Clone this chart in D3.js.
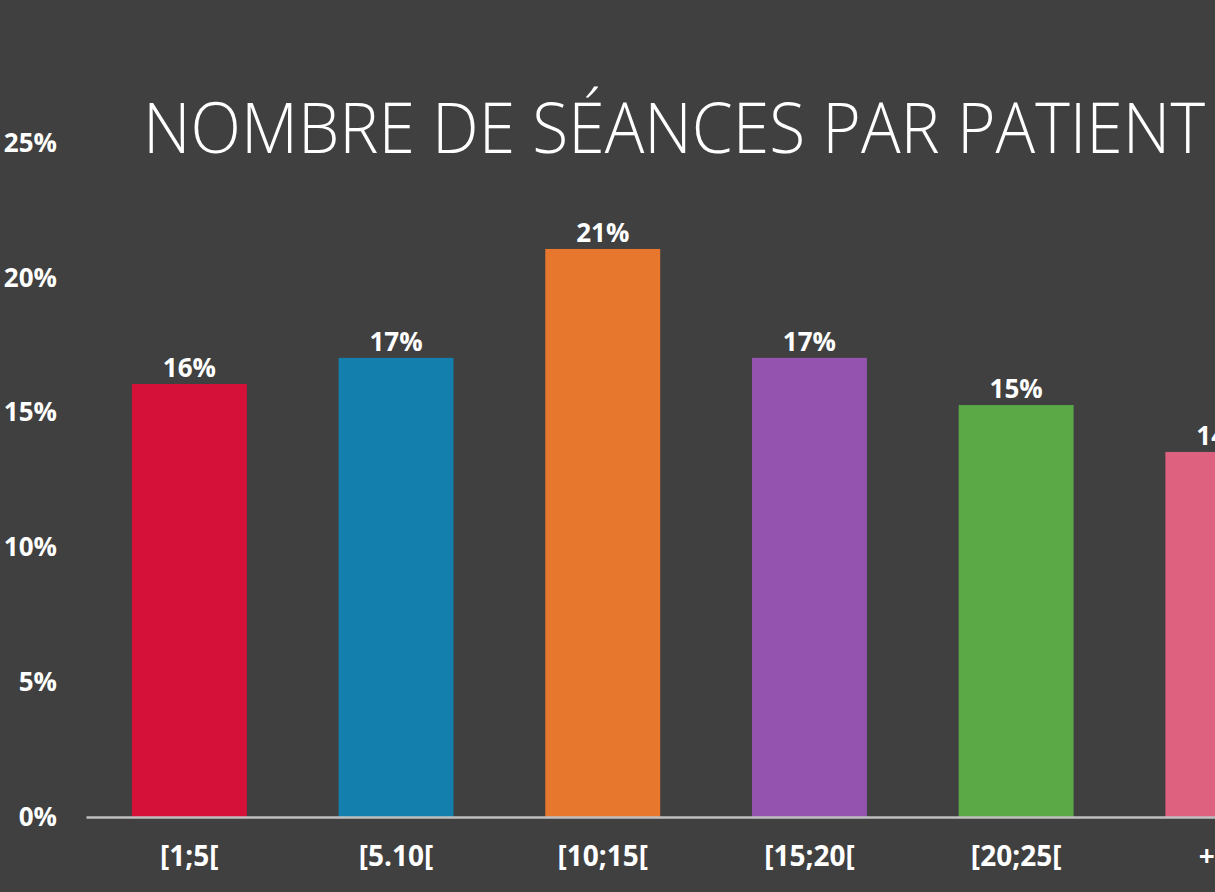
<!DOCTYPE html>
<html>
<head>
<meta charset="utf-8">
<script src="https://cdn.jsdelivr.net/npm/d3@7"></script>
<style>
  html, body { margin: 0; padding: 0; background: #404040; overflow: hidden; }
  svg { display: block; }
</style>
</head>
<body>
<div id="chart"></div>
<script>
// chart data
const categories = ["[1;5[", "[5.10[", "[10;15[", "[15;20[", "[20;25[", "+25"];
const values = [0.1606, 0.1703, 0.2107, 0.1703, 0.1528, 0.1354];
const barColors = ["#D51039", "#127FAD", "#E8772E", "#9553B0", "#5AA846", "#DE6180"];
const yTicks = [0, 0.05, 0.10, 0.15, 0.20, 0.25];
const titleText = "NOMBRE DE SÉANCES PAR PATIENT";

class BarChart {
    constructor(_config) {
        this.config = {
            parentElement: _config.parentElement,
            containerWidth: _config.containerWidth || 1215,
            containerHeight: _config.containerHeight || 892
        };
        this.initVis();
    }

    initVis() {
        const vis = this;
        vis.svg = d3.select(vis.config.parentElement)
            .append('svg')
            .attr('width', vis.config.containerWidth)
            .attr('height', vis.config.containerHeight);

        vis.svg.append('rect')
            .attr('width', vis.config.containerWidth)
            .attr('height', vis.config.containerHeight)
            .attr('fill', '#404040');

        // plot is wider than the picture, last bar gets cut at the right edge
        vis.x = d3.scaleBand()
            .domain(categories)
            .range([86, 86 + 206.7 * categories.length])
            .paddingInner(0.444)
            .paddingOuter(0.222);

        vis.y = d3.scaleLinear().domain([0, 0.25]).range([817, 143]);

        vis.renderVis();
    }

    renderVis() {
        const vis = this;
        const fmt = d3.format('.0%');
        const font = '"Open Sans", sans-serif';

        // title
        vis.svg.append('text')
            .attr('x', 143)
            .attr('y', 153)
            .attr('textLength', 1062)
            .attr('lengthAdjust', 'spacingAndGlyphs')
            .attr('fill', '#ffffff')
            .style('font-family', font)
            .style('font-weight', 300)
            .style('font-size', '70px')
            .text(titleText);

        // y axis labels
        const yAxis = d3.axisLeft(vis.y)
            .tickValues(yTicks)
            .tickFormat(fmt)
            .tickSize(0)
            .tickPadding(29);
        const yg = vis.svg.append('g')
            .attr('transform', 'translate(86,0)')
            .call(yAxis);
        yg.select('.domain').remove();
        yg.selectAll('text')
            .attr('fill', '#ffffff')
            .style('font-family', font)
            .style('font-weight', 700)
            .style('font-size', '26px');

        // bars
        vis.svg.selectAll('.bar')
            .data(values)
            .enter().append('rect')
            .attr('class', 'bar')
            .attr('x', (d, i) => vis.x(categories[i]))
            .attr('width', vis.x.bandwidth())
            .attr('y', d => vis.y(d))
            .attr('height', d => vis.y(0) - vis.y(d))
            .attr('fill', (d, i) => barColors[i]);

        // value labels
        vis.svg.selectAll('.val')
            .data(values)
            .enter().append('text')
            .attr('class', 'val')
            .attr('x', (d, i) => vis.x(categories[i]) + vis.x.bandwidth() / 2)
            .attr('y', d => vis.y(d) - 7)
            .attr('text-anchor', 'middle')
            .attr('fill', '#ffffff')
            .style('font-family', font)
            .style('font-weight', 700)
            .style('font-size', '26px')
            .text(d => fmt(d));

        // x axis
        const xAxis = d3.axisBottom(vis.x)
            .tickSize(0)
            .tickPadding(29);
        const xg = vis.svg.append('g')
            .attr('transform', 'translate(0,' + vis.y(0) + ')')
            .call(xAxis);
        xg.select('.domain')
            .attr('stroke', '#BFBFBF')
            .attr('stroke-width', 2.5);
        xg.selectAll('text')
            .attr('fill', '#ffffff')
            .style('font-family', font)
            .style('font-weight', 700)
            .style('font-size', '28px');
    }
}

new BarChart({ parentElement: '#chart' });
</script>
</body>
</html>
